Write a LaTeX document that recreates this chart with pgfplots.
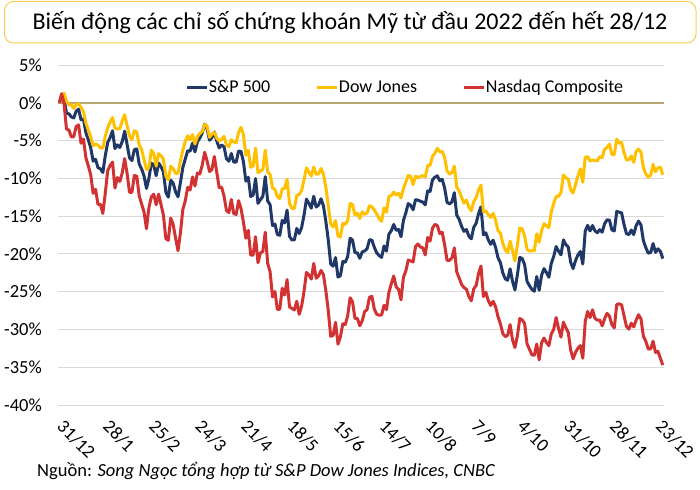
\documentclass[border=0pt]{standalone}
\usepackage{pgfplots}
\usepackage{pgfplotstable}
\pgfplotsset{compat=1.18}
\usepackage{fontspec}
\setmainfont{Carlito}
\definecolor{spblue}{RGB}{32,56,104}
\definecolor{djyellow}{RGB}{255,192,0}
\definecolor{nqred}{RGB}{210,50,50}
\definecolor{zeroline}{RGB}{184,168,116}
\definecolor{gridgray}{RGB}{217,217,217}
\definecolor{boxgold}{RGB}{250,205,80}

\pgfplotstableread{
idx sp dj nq
0 0 0 0
1 0.64 0.68 1.20
2 0.57 1.27 -0.14
3 -1.38 0.19 -3.48
4 -1.47 -0.28 -3.61
5 -1.87 -0.29 -4.53
6 -2.01 -0.74 -4.49
7 -1.11 -0.24 -3.14
8 -0.84 -0.13 -2.92
9 -2.25 -0.62 -5.36
10 -2.17 -1.17 -4.80
11 -3.97 -2.67 -7.27
12 -4.90 -3.60 -8.34
13 -5.95 -4.47 -9.53
14 -7.73 -5.70 -11.99
15 -7.47 -5.43 -11.44
16 -8.60 -5.62 -13.46
17 -8.73 -5.97 -13.44
18 -9.23 -5.99 -14.65
19 -7.01 -4.44 -11.98
20 -5.26 -3.32 -8.98
21 -4.61 -2.57 -8.30
22 -3.71 -1.95 -7.85
23 -6.06 -3.38 -11.29
24 -5.57 -3.44 -9.89
25 -5.92 -3.43 -10.41
26 -5.13 -2.41 -9.27
27 -3.76 -1.57 -7.38
28 -5.50 -3.02 -9.33
29 -7.29 -4.40 -11.85
30 -7.65 -4.88 -11.85
31 -6.19 -3.71 -9.62
32 -6.11 -3.86 -9.72
33 -8.10 -5.58 -12.33
34 -8.76 -6.22 -13.40
35 -9.68 -7.54 -14.47
36 -11.34 -8.82 -16.67
37 -10.02 -8.57 -13.88
38 -8.00 -6.27 -12.47
39 -8.23 -6.73 -12.10
40 -9.65 -8.38 -13.50
41 -7.97 -6.73 -12.10
42 -8.45 -7.00 -13.47
43 -9.18 -7.49 -14.90
44 -11.86 -9.69 -17.99
45 -12.49 -10.20 -18.21
46 -10.25 -8.40 -15.27
47 -10.63 -8.71 -16.08
48 -11.79 -9.34 -17.90
49 -12.44 -9.34 -19.58
50 -10.57 -7.69 -17.23
51 -8.57 -6.26 -14.12
52 -7.44 -5.11 -12.98
53 -6.36 -4.36 -11.19
54 -6.40 -4.91 -11.55
55 -5.34 -4.21 -9.82
56 -6.50 -5.45 -11.01
57 -5.16 -4.49 -9.29
58 -4.68 -4.06 -9.43
59 -4.00 -3.80 -8.25
60 -2.82 -2.87 -6.55
61 -3.44 -3.05 -7.69
62 -4.95 -4.57 -9.10
63 -4.62 -4.18 -8.84
64 -3.85 -3.90 -7.11
65 -5.06 -4.67 -9.21
66 -5.98 -5.07 -11.23
67 -5.58 -4.83 -11.17
68 -5.83 -4.45 -12.36
69 -7.42 -5.59 -14.27
70 -7.74 -5.83 -14.53
71 -6.71 -4.88 -12.79
72 -7.84 -5.19 -14.66
73 -7.86 -5.30 -14.78
74 -6.38 -3.93 -12.95
75 -6.44 -3.24 -14.01
76 -7.82 -4.25 -15.79
77 -10.37 -6.95 -17.93
78 -9.86 -6.30 -16.88
79 -12.40 -8.53 -20.16
80 -12.22 -8.36 -20.17
81 -10.04 -5.99 -17.73
82 -13.31 -9.25 -21.16
83 -12.82 -9.02 -19.87
84 -12.39 -8.83 -19.69
85 -9.78 -6.27 -17.13
86 -12.99 -9.19 -21.27
87 -13.49 -9.46 -22.37
88 -16.26 -11.26 -25.71
89 -16.05 -11.50 -24.97
90 -17.44 -12.40 -27.36
91 -17.54 -12.68 -27.32
92 -15.57 -11.40 -24.54
93 -15.91 -11.32 -25.45
94 -14.21 -10.14 -23.40
95 -17.68 -13.34 -27.02
96 -18.16 -13.99 -27.21
97 -18.15 -13.97 -27.42
98 -16.63 -12.27 -26.27
99 -17.30 -12.14 -28.00
100 -16.52 -11.61 -26.91
101 -14.86 -10.19 -24.96
102 -12.76 -8.60 -22.46
103 -13.30 -9.21 -22.78
104 -13.95 -9.70 -23.33
105 -12.37 -8.50 -21.27
106 -13.80 -9.46 -23.22
107 -13.53 -9.42 -22.91
108 -12.70 -8.69 -22.18
109 -13.65 -9.43 -22.75
110 -15.70 -11.19 -24.87
111 -18.16 -13.61 -27.52
112 -21.33 -16.02 -30.91
113 -21.63 -16.44 -30.79
114 -20.48 -15.60 -29.06
115 -23.07 -17.64 -31.95
116 -22.90 -17.75 -30.98
117 -21.01 -15.98 -29.25
118 -21.11 -16.11 -29.35
119 -20.36 -15.58 -28.21
120 -17.93 -13.31 -25.81
121 -18.17 -13.48 -26.34
122 -19.82 -14.84 -28.53
123 -19.88 -14.61 -28.55
124 -20.58 -15.31 -29.51
125 -19.74 -14.42 -28.87
126 -19.61 -14.78 -27.63
127 -19.33 -14.59 -27.38
128 -18.12 -13.63 -25.72
129 -18.19 -13.76 -25.63
130 -19.13 -14.21 -27.31
131 -19.88 -14.74 -28.00
132 -20.23 -15.32 -28.11
133 -20.47 -15.71 -28.08
134 -18.95 -13.90 -26.80
135 -19.63 -14.49 -27.39
136 -17.40 -12.41 -25.13
137 -16.92 -12.28 -23.95
138 -16.10 -11.84 -22.92
139 -16.88 -12.22 -24.36
140 -16.77 -11.97 -24.69
141 -17.73 -12.60 -26.09
142 -15.58 -11.39 -23.09
143 -14.56 -10.48 -22.26
144 -13.34 -9.61 -20.80
145 -13.59 -9.74 -20.94
146 -14.16 -10.85 -21.07
147 -12.82 -9.70 -19.03
148 -12.89 -9.94 -18.69
149 -13.03 -9.73 -19.10
150 -13.14 -9.65 -19.18
151 -13.51 -9.81 -20.14
152 -11.66 -8.34 -17.83
153 -11.73 -8.26 -18.31
154 -10.20 -7.09 -16.60
155 -9.84 -6.68 -16.09
156 -9.67 -6.02 -16.25
157 -10.33 -6.49 -17.30
158 -10.12 -6.44 -17.13
159 -11.28 -7.24 -18.79
160 -13.18 -9.01 -20.86
161 -13.38 -9.44 -20.86
162 -13.12 -9.27 -20.54
163 -11.90 -8.38 -19.21
164 -14.87 -11.16 -22.39
165 -15.43 -11.67 -23.19
166 -16.37 -12.51 -24.05
167 -17.02 -13.29 -24.47
168 -16.77 -12.88 -24.67
169 -17.66 -13.81 -25.66
170 -18.00 -14.29 -26.21
171 -16.50 -13.09 -24.63
172 -15.95 -12.56 -24.18
173 -14.66 -11.52 -22.58
174 -13.76 -10.89 -21.60
175 -17.49 -14.40 -25.64
176 -17.21 -14.32 -25.09
177 -18.15 -14.80 -26.16
178 -18.73 -15.18 -26.82
179 -18.18 -14.64 -26.27
180 -19.10 -15.50 -26.97
181 -20.48 -16.94 -28.28
182 -21.15 -17.23 -29.26
183 -22.51 -18.57 -30.53
184 -23.31 -19.48 -30.95
185 -23.48 -19.82 -30.78
186 -21.97 -18.31 -29.36
187 -23.62 -19.57 -31.37
188 -24.77 -20.95 -32.40
189 -22.82 -18.84 -30.87
190 -20.46 -16.57 -28.56
191 -20.62 -16.69 -28.74
192 -21.44 -17.64 -29.22
193 -23.64 -19.38 -31.91
194 -24.21 -19.64 -32.62
195 -24.70 -19.54 -33.36
196 -24.95 -19.61 -33.42
197 -23.00 -17.34 -31.93
198 -24.82 -18.45 -34.03
199 -22.83 -16.93 -31.76
200 -21.95 -16.00 -31.14
201 -22.47 -16.28 -31.73
202 -23.09 -16.52 -32.15
203 -21.26 -14.46 -30.59
204 -20.33 -13.32 -29.99
205 -19.03 -12.39 -28.42
206 -19.63 -12.38 -29.88
207 -20.12 -11.85 -31.02
208 -18.15 -9.57 -29.04
209 -18.76 -9.92 -29.77
210 -19.10 -10.14 -30.39
211 -21.12 -11.53 -32.73
212 -21.95 -11.94 -33.89
213 -20.89 -10.83 -33.04
214 -20.13 -9.66 -32.47
215 -19.68 -8.74 -32.14
216 -21.35 -10.52 -33.82
217 -16.99 -7.22 -28.96
218 -16.22 -7.13 -27.62
219 -16.97 -7.71 -28.44
220 -16.25 -7.56 -27.40
221 -16.94 -7.66 -28.52
222 -17.20 -7.68 -28.76
223 -16.80 -7.13 -28.76
224 -17.13 -7.26 -29.53
225 -16.00 -6.16 -28.58
226 -15.50 -5.90 -27.87
227 -15.53 -5.48 -28.24
228 -16.83 -6.85 -29.37
229 -16.96 -6.84 -29.79
230 -14.39 -4.81 -26.70
231 -14.47 -5.35 -26.61
232 -14.57 -5.25 -26.74
233 -16.10 -6.58 -28.16
234 -17.31 -7.55 -29.59
235 -17.46 -7.54 -29.96
236 -16.84 -7.04 -29.17
237 -17.45 -7.88 -29.66
238 -16.27 -6.42 -28.77
239 -15.66 -6.14 -28.05
240 -16.17 -6.53 -28.60
241 -18.26 -8.63 -30.90
242 -19.17 -9.41 -31.57
243 -19.90 -9.85 -32.59
244 -19.82 -9.60 -32.58
245 -18.63 -8.15 -31.55
246 -19.80 -9.11 -33.04
247 -19.33 -8.63 -32.90
248 -19.66 -8.52 -33.82
249 -20.62 -9.53 -34.72
}\datatable

\begin{document}
\begin{tikzpicture}
\path[use as bounding box] (0,0) rectangle (700bp,490bp);
% title box
\draw[boxgold, line width=1bp, rounded corners=9bp] (4.5bp,447bp) rectangle (696bp,488.5bp);
\node[anchor=base, inner sep=0pt] at (350bp,460bp) {\fontsize{24bp}{28bp}\selectfont Biến động các chỉ số chứng khoán Mỹ từ đầu 2022 đến hết 28/12};
% source
\node[anchor=base west, inner sep=0pt] at (37bp,14bp) {\fontsize{18.5bp}{22bp}\selectfont Nguồn: \textit{Song Ngọc tổng hợp từ S\&P Dow Jones Indices, CNBC}};
\begin{axis}[
  at={(58bp,85bp)}, anchor=south west,
  scale only axis, width=606bp, height=340bp,
  xmin=-0.5, xmax=249.5, ymin=-40, ymax=5,
  axis line style={draw=none},
  major tick length=0pt,
  ymajorgrids, grid style={gridgray, line width=1bp},
  ytick={-40,-35,...,5},
  yticklabels={-40\%,-35\%,-30\%,-25\%,-20\%,-15\%,-10\%,-5\%,0\%,5\%},
  yticklabel style={font=\fontsize{18.5bp}{22bp}\selectfont, anchor=east, inner sep=0pt, xshift=-16bp},
  xtick={0,19,...,247},
  xticklabels={31/12,28/1,25/2,24/3,21/4,18/5,15/6,14/7,10/8,7/9,4/10,31/10,28/11,23/12},
  xticklabel style={font=\fontsize{18.5bp}{22bp}\selectfont, xshift=6bp, yshift=-12bp, rotate=-45, anchor=north west, inner sep=1bp},
  extra y ticks={0}, extra y tick labels={},
  extra y tick style={grid style={zeroline, line width=1.6bp}},
  legend columns=3,
  legend style={at={(0.572,0.935)}, anchor=center, draw=none, fill=none,
    font=\fontsize{18bp}{21bp}\selectfont, inner sep=0pt,
    /tikz/every even column/.append style={column sep=44bp},
    nodes={inner xsep=1bp}},
  legend image code/.code={\draw[#1, line width=2.8bp] (0bp,0bp) -- (20bp,0bp);},
  every axis plot/.append style={line width=3bp, line join=round, mark=none},
]
\addplot[spblue] table[x=idx, y=sp] {\datatable};
\addlegendentry{S\&P 500}
\addplot[djyellow] table[x=idx, y=dj] {\datatable};
\addlegendentry{Dow Jones}
\addplot[nqred] table[x=idx, y=nq] {\datatable};
\addlegendentry{Nasdaq Composite}
\end{axis}
\end{tikzpicture}
\end{document}
